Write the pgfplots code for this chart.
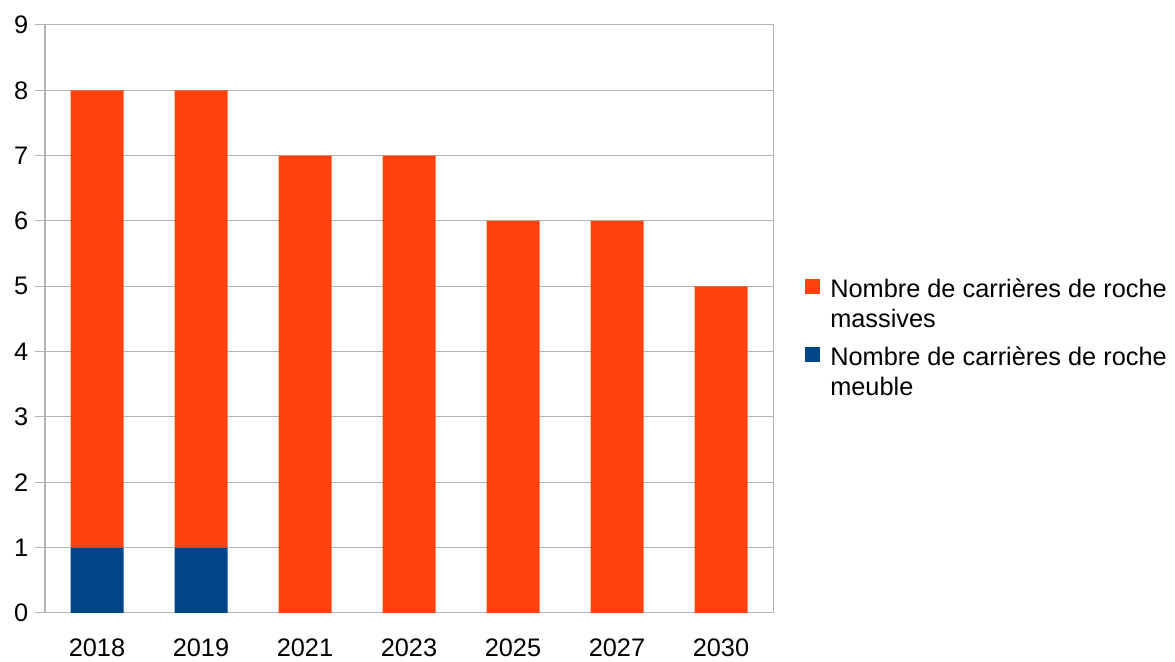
\documentclass[border=0pt]{standalone}
\usepackage{pgfplots}
\pgfplotsset{compat=1.18}
\usepackage{fontspec}
\setmainfont{Liberation Sans}
\definecolor{c1}{HTML}{FF420E}
\definecolor{c2}{HTML}{004586}
\definecolor{gridc}{HTML}{B3B3B3}
\begin{document}
\begin{tikzpicture}
\begin{axis}[
  scale only axis,
  width=546pt, height=441pt,
  ybar stacked, bar width=39.75pt,
  xmin=-0.5, xmax=6.5, ymin=0, ymax=9,
  ytick={0,...,9},
  xtick={0,...,6},
  xticklabels={2018,2019,2021,2023,2025,2027,2030},
  font=\fontsize{19pt}{22.5pt}\selectfont,
  /pgf/number format/assume math mode=true,
  tick align=outside, tick pos=left,
  ymajorgrids, grid style={gridc, line width=0.75pt},
  axis line style={gridc, line width=0.75pt},
  major tick style={gridc, line width=0.75pt},
  major tick length=7.5pt,
  x tick style={draw=none},
  extra x ticks={-0.5,0.5,...,6.5},
  extra x tick labels={},
  extra x tick style={grid=none, major tick style={gridc, line width=0.75pt, draw=gridc}, major tick length=7.5pt},
  xticklabel style={yshift=-8.5pt},
  yticklabel style={xshift=-1.5pt},
  legend style={at={(1,1)}, anchor=north west, xshift=24pt, yshift=-188.5pt,
    draw=none, fill=none, inner sep=0pt, row sep=0pt, column sep=0pt,
    nodes={inner sep=0pt}, cells={anchor=base west}},
  legend image code/.code={\fill[#1] (0pt,3pt) rectangle (11.25pt,14.25pt); \path (0pt,-35.25pt);},
]
\coordinate (o) at (rel axis cs:0,0);
\coordinate (t) at (rel axis cs:1,1);
\addplot[fill=c2, draw=none, forget plot] coordinates {(0,1) (1,1) (2,0) (3,0) (4,0) (5,0) (6,0)};
\addplot[fill=c1, draw=none, forget plot] coordinates {(0,7) (1,7) (2,7) (3,7) (4,6) (5,6) (6,5)};
\addlegendimage{fill=c1, draw=none}
\addlegendentry{\hspace{7.5pt}\begin{tabular}[t]{@{}l@{}}Nombre de carrières de roche\\massives\end{tabular}}
\addlegendimage{fill=c2, draw=none}
\addlegendentry{\hspace{7.5pt}\begin{tabular}[t]{@{}l@{}}Nombre de carrières de roche\\meuble\end{tabular}}
\end{axis}
\path ([xshift=-33.75pt, yshift=-33.75pt]o) rectangle ([xshift=301.5pt, yshift=18.75pt]t);
\end{tikzpicture}
\end{document}
